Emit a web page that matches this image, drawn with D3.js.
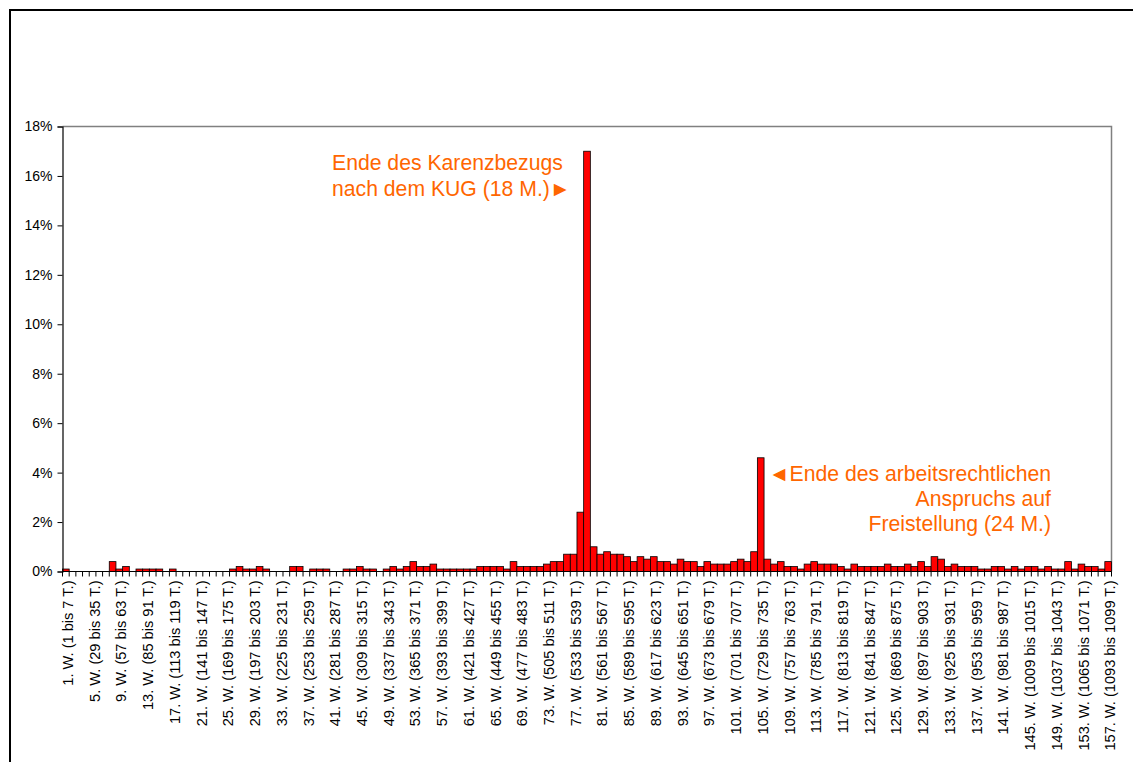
<!DOCTYPE html>
<html lang="de">
<head>
<meta charset="UTF-8">
<title>Karenzbezug</title>
<script src="https://d3js.org/d3.v7.min.js"></script>
<style>
    body { margin: 0; background: #fff; }
    svg { display: block; font-family: Arial, "Liberation Sans", sans-serif; }
</style>
</head>
<body>
<script>
    // share of returns per week (in %), week 1 .. 157
    const shares = [
        0.1, 0, 0, 0, 0, 0, 0, 0.4, 0.1, 0.2,
        0, 0.1, 0.1, 0.1, 0.1, 0, 0.1, 0, 0, 0,
        0, 0, 0, 0, 0, 0.1, 0.2, 0.1, 0.1, 0.2,
        0.1, 0, 0, 0, 0.2, 0.2, 0, 0.1, 0.1, 0.1,
        0, 0, 0.1, 0.1, 0.2, 0.1, 0.1, 0, 0.1, 0.2,
        0.1, 0.2, 0.4, 0.2, 0.2, 0.3, 0.1, 0.1, 0.1, 0.1,
        0.1, 0.1, 0.2, 0.2, 0.2, 0.2, 0.1, 0.4, 0.2, 0.2,
        0.2, 0.2, 0.3, 0.4, 0.4, 0.7, 0.7, 2.4, 17.0, 1.0,
        0.7, 0.8, 0.7, 0.7, 0.6, 0.4, 0.6, 0.5, 0.6, 0.4,
        0.4, 0.3, 0.5, 0.4, 0.4, 0.2, 0.4, 0.3, 0.3, 0.3,
        0.4, 0.5, 0.4, 0.8, 4.6, 0.5, 0.3, 0.4, 0.2, 0.2,
        0.1, 0.3, 0.4, 0.3, 0.3, 0.3, 0.2, 0.1, 0.3, 0.2,
        0.2, 0.2, 0.2, 0.3, 0.2, 0.2, 0.3, 0.2, 0.4, 0.2,
        0.6, 0.5, 0.2, 0.3, 0.2, 0.2, 0.2, 0.1, 0.1, 0.2,
        0.2, 0.1, 0.2, 0.1, 0.2, 0.2, 0.1, 0.2, 0.1, 0.1,
        0.4, 0.1, 0.3, 0.2, 0.2, 0.1, 0.4
    ];
    const weeks = d3.range(1, shares.length + 1);
    const weekLabel = w => w + ". W. (" + ((w - 1) * 7 + 1) + " bis " + (w * 7) + " T.)";
    const labelWeeks = weeks.filter(w => (w - 1) % 4 === 0);
    const yTicks = [0, 2, 4, 6, 8, 10, 12, 14, 16, 18];

    const noteKUG = ["Ende des Karenzbezugs", "nach dem KUG (18 M.)\u25BA"];
    const noteArbR = ["\u25C4Ende des arbeitsrechtlichen", "Anspruchs auf", "Freistellung (24 M.)"];

    const W = 1133, H = 762;
    const mLeft = 62.5, mRight = 1111.5, mTop = 126.5, mBottom = 571.5;

    const svg = d3.select("body").append("svg")
        .attr("width", W)
        .attr("height", H);

    // outer chart frame (cut off on right and bottom)
    svg.append("rect")
        .attr("x", 10).attr("y", 10)
        .attr("width", 1200).attr("height", 900)
        .attr("fill", "none")
        .attr("stroke", "#000")
        .attr("stroke-width", 2);

    const x = d3.scaleBand().domain(weeks).range([mLeft, mRight]).padding(0);
    const y = d3.scaleLinear().domain([0, 18]).range([mBottom, mTop]);

    // plot area border (grey top + right)
    svg.append("path")
        .attr("d", "M" + mLeft + "," + mTop + "H" + mRight + "V" + mBottom)
        .attr("fill", "none")
        .attr("stroke", "#808080")
        .attr("stroke-width", 1.5);

    svg.selectAll("rect.bar")
        .data(weeks.filter(w => shares[w - 1] > 0))
        .enter()
        .append("rect")
        .attr("class", "bar")
        .attr("x", w => x(w))
        .attr("width", x.bandwidth())
        .attr("y", w => y(shares[w - 1]))
        .attr("height", w => mBottom - y(shares[w - 1]))
        .attr("fill", "#ff0000")
        .attr("stroke", "#000")
        .attr("stroke-width", 0.8);

    // y axis
    const yAxis = svg.append("g")
        .attr("transform", "translate(" + mLeft + ",0)")
        .call(d3.axisLeft(y).tickValues(yTicks).tickSize(5).tickPadding(5)
            .tickFormat(d => d + "%"));
    yAxis.select(".domain").attr("stroke", "#000").attr("stroke-width", 1.2);
    yAxis.selectAll("text").attr("font-size", 14).attr("fill", "#000")
        .attr("font-family", "Arial, 'Liberation Sans', sans-serif");

    // x axis: ticks at every category boundary
    svg.selectAll("line.xtick")
        .data(weeks.concat([weeks.length + 1]))
        .enter()
        .append("line")
        .attr("class", "xtick")
        .attr("x1", w => w <= weeks.length ? x(w) : mRight)
        .attr("x2", w => w <= weeks.length ? x(w) : mRight)
        .attr("y1", mBottom)
        .attr("y2", mBottom + 5)
        .attr("stroke", "#000")
        .attr("stroke-width", 1);

    svg.append("line")
        .attr("x1", mLeft).attr("x2", mRight)
        .attr("y1", mBottom).attr("y2", mBottom)
        .attr("stroke", "#000").attr("stroke-width", 1.2);

    svg.selectAll("text.xlabel")
        .data(labelWeeks)
        .enter()
        .append("text")
        .attr("class", "xlabel")
        .attr("transform", w => "translate(" + (x(w) + x.bandwidth() / 2 + 2) + "," + (mBottom + 9) + ") rotate(-90)")
        .attr("text-anchor", "end")
        .attr("dy", "0.35em")
        .attr("font-size", 14.6)
        .text(weekLabel);

    // annotations
    svg.append("text")
        .attr("x", 332)
        .attr("y", 170)
        .attr("font-size", 21.2)
        .attr("fill", "#ff6600")
        .selectAll("tspan")
        .data(noteKUG)
        .enter()
        .append("tspan")
        .attr("x", 332)
        .attr("dy", (d, i) => i === 0 ? 0 : 25.5)
        .text(d => d);

    svg.append("text")
        .attr("x", 1051)
        .attr("y", 481)
        .attr("font-size", 21.2)
        .attr("fill", "#ff6600")
        .attr("text-anchor", "end")
        .selectAll("tspan")
        .data(noteArbR)
        .enter()
        .append("tspan")
        .attr("x", 1051)
        .attr("dy", (d, i) => i === 0 ? 0 : 25)
        .text(d => d);
</script>
</body>
</html>
